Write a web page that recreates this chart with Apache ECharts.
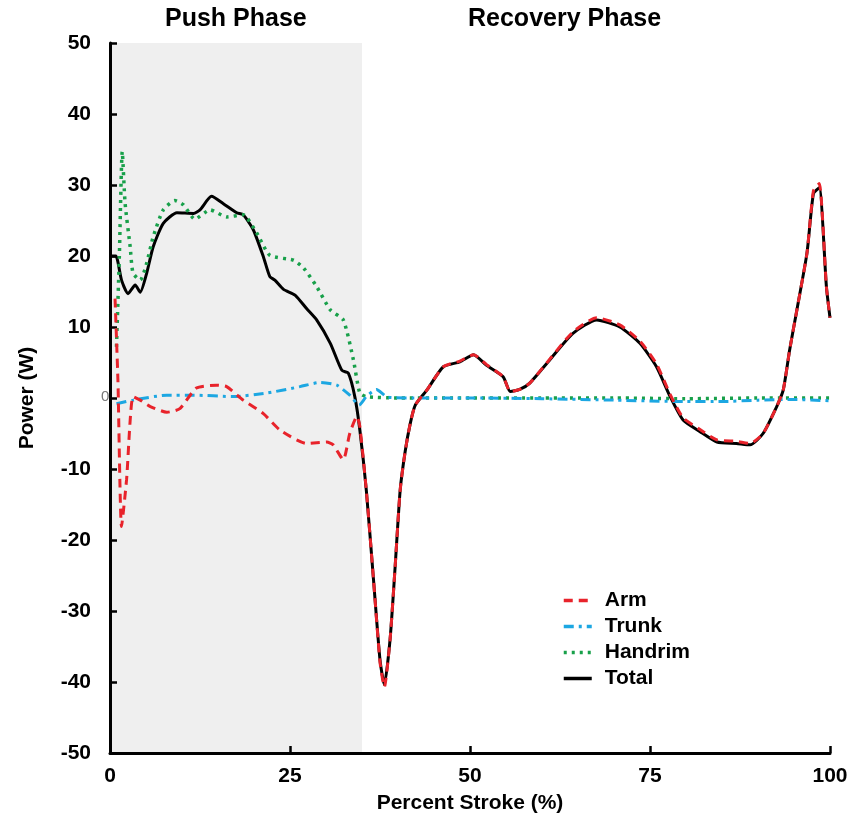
<!DOCTYPE html>
<html>
<head>
<meta charset="utf-8">
<script src="https://cdn.jsdelivr.net/npm/echarts@6/dist/echarts.min.js"></script>
<style>
html,body{margin:0;padding:0;background:#fff;}
#c{width:855px;height:825px;}
</style>
</head>
<body>
<div id="c"></div>
<script>
// ---- data ----
const xTicks = [0, 25, 50, 75, 100];
const yTicks = [-50, -40, -30, -20, -10, 0, 10, 20, 30, 40, 50];
const pushPhaseEnd = 35;
const phaseLabels = ['Push Phase', 'Recovery Phase'];
const seriesNames = ['Arm', 'Trunk', 'Handrim', 'Total'];

const totalX = [0, 0.8, 1.6, 2.5, 3.5, 4.2, 5.1, 6.0, 7.4, 9.3, 11.6, 12.5, 14.1, 15.7, 17.6, 18.5, 19.9, 21.3, 22.2, 22.9, 24.1, 25.7, 27.3, 28.7, 30.6, 32.2, 33.1, 34.0, 34.7, 35.6, 36.6, 37.5, 38.1, 38.9, 39.6, 40.3, 41.0, 41.7, 42.4, 44.0, 46.3, 48.6, 50.5, 52.3, 54.6, 55.6, 56.9, 58.3, 61.1, 64.3, 67.6, 70.8, 73.6, 75.9, 77.8, 79.6, 81.9, 84.3, 87.0, 88.9, 90.7, 92.6, 93.5, 94.4, 95.4, 96.8, 97.7, 98.5, 99.5, 100];
const totalY = [20, 20, 16.6, 14.7, 15.9, 14.9, 17.6, 21.3, 24.6, 26.1, 26.0, 26.5, 28.4, 27.4, 26.1, 25.8, 23.7, 19.9, 17.1, 16.6, 15.3, 14.5, 12.6, 11.0, 7.7, 3.9, 3.5, 0.2, -4.5, -13, -25.6, -36.9, -40.4, -34, -23.8, -13, -7.5, -3.6, -1.0, 1.1, 4.4, 5.1, 6.1, 4.6, 3.0, 0.9, 1.2, 2.1, 5.4, 9.1, 11.0, 10.0, 7.7, 4.4, 0.2, -3.1, -4.7, -6.2, -6.4, -6.6, -5.0, -1.2, 1.1, 6.8, 12.4, 20.4, 28.8, 29.6, 15.7, 11.3];

const armX = [0.7, 1.1, 1.6, 2.3, 3.2, 4.2, 5.6, 7.9, 9.7, 12.0, 14.8, 16.2, 18.5, 21.3, 23.6, 27.3, 30.1, 31.0, 32.4, 33.3, 34.3, 34.7, 35.6, 36.6, 37.5, 38.1, 38.9, 39.6, 40.3, 41.0, 41.7, 42.4, 44.0, 46.3, 48.6, 50.5, 52.3, 54.6, 55.6, 56.9, 58.3, 61.1, 64.3, 67.6, 70.8, 73.6, 75.9, 77.8, 79.6, 81.9, 84.3, 87.0, 88.9, 90.7, 92.6, 93.5, 94.4, 95.4, 96.8, 97.7, 98.5, 99.5, 100];
const armY = [14, 2.5, -18.1, -11.5, 0.2, -0.3, -1.2, -2.0, -1.5, 1.4, 1.8, 1.6, -0.3, -2.2, -4.5, -6.4, -6.2, -6.6, -8.7, -5.0, -2.6, -4.0, -13, -25.6, -37.2, -40.7, -34, -23.8, -13, -7.5, -3.6, -1.0, 1.1, 4.4, 5.2, 6.1, 4.7, 3.0, 0.9, 1.2, 2.1, 5.5, 9.3, 11.3, 10.3, 8.0, 4.8, 0.5, -2.8, -4.4, -5.9, -6.1, -6.4, -5.0, -1.2, 1.1, 6.8, 12.4, 20.4, 29.2, 30.2, 15.7, 11.3];

const trunkX = [0.9, 3.2, 7.9, 11.6, 17.1, 21.8, 26.4, 29.2, 31.5, 33.3, 34.6, 35.6, 37.0, 38.6, 42, 50, 60, 70, 80, 85, 90, 95, 100];
const trunkY = [-0.8, -0.3, 0.4, 0.4, 0.2, 0.7, 1.6, 2.2, 1.8, 0.4, -1.0, 0.2, 1.2, 0.1, 0, 0, -0.1, -0.3, -0.5, -0.5, -0.3, -0.2, -0.4];

const handrimX = [0.9, 1.3, 1.7, 2.1, 2.8, 3.2, 4.2, 5.1, 6.0, 7.4, 9.0, 10.2, 11.8, 13.9, 16.2, 18.5, 20.4, 22.2, 25.5, 26.9, 28.7, 30.6, 32.4, 33.8, 34.7, 35.6, 40, 50, 60, 70, 80, 90, 100];
const handrimY = [7.2, 20, 34.7, 27.4, 21.3, 17.6, 16.6, 19.0, 22.7, 26.5, 27.8, 27.2, 25.2, 26.5, 25.5, 25.8, 23.2, 20.1, 19.4, 18.3, 15.7, 12.4, 11.0, 5.4, 0.7, 0.2, 0, 0, 0, 0, -0.1, 0, 0];

// ---- helpers ----
function pairs(xs, ys) { return xs.map((x, i) => [x, ys[i]]); }
const FONT = "'Liberation Sans', Arial, sans-serif";

const chart = echarts.init(document.getElementById('c'), null, {renderer: 'canvas'});

chart.setOption({
  animation: false,
  backgroundColor: '#fff',
  grid: {left: 110, right: 25, top: 43, bottom: 72, containLabel: false},
  legend: {
    orient: 'vertical',
    left: 557,
    top: 585,
    itemWidth: 28,
    itemHeight: 14,
    itemGap: 5,
    data: seriesNames,
    itemStyle: {opacity: 0},
    lineStyle: {width: 3.5},
    textStyle: {fontFamily: FONT, fontWeight: 'bold', fontSize: 21, color: '#000', padding: [0, 0, 0, 8]}
  },
  xAxis: {
    type: 'value', min: 0, max: 100, interval: 25,
    name: 'Percent Stroke (%)', nameLocation: 'middle', nameGap: 40,
    nameTextStyle: {fontFamily: FONT, fontWeight: 'bold', fontSize: 21, color: '#000'},
    axisLine: {show: true, onZero: false, lineStyle: {color: '#000', width: 3}},
    axisTick: {show: true, inside: true, length: 7, lineStyle: {color: '#000', width: 2.5}},
    axisLabel: {margin: 13, fontFamily: FONT, fontWeight: 'bold', fontSize: 21, color: '#000',
      formatter: v => xTicks.includes(v) ? String(v) : ''},
    splitLine: {show: false}
  },
  yAxis: {
    type: 'value', min: -50, max: 50, interval: 10,
    name: 'Power (W)', nameLocation: 'middle', nameGap: 72, nameRotate: 90,
    nameTextStyle: {fontFamily: FONT, fontWeight: 'bold', fontSize: 21, color: '#000'},
    axisLine: {show: true, onZero: false, lineStyle: {color: '#000', width: 3}},
    axisTick: {show: true, inside: true, length: 7, lineStyle: {color: '#000', width: 2.5}},
    axisLabel: {margin: 19, fontFamily: FONT, fontWeight: 'bold', fontSize: 21, color: '#000',
      formatter: v => (v === 0 ? '' : (yTicks.includes(v) ? String(v) : ''))},
    splitLine: {show: false}
  },
  graphic: [
    {type: 'text', left: 237 - 72, top: 7, style: {text: phaseLabels[0], fontFamily: FONT, fontWeight: 'bold', fontSize: 25, fill: '#000'}},
    {type: 'text', left: 575 - 107, top: 7, style: {text: phaseLabels[1], fontFamily: FONT, fontWeight: 'bold', fontSize: 25, fill: '#000'}},
    {type: 'text', left: 101, top: 389, style: {text: '0', fontFamily: FONT, fontSize: 15, fill: '#777'}}
  ],
  series: [
    {
      name: 'phase', type: 'line', data: [], symbol: 'none', z: -1, silent: true,
      markArea: {silent: true, z: -1, itemStyle: {color: '#efefef'}, data: [[{xAxis: 0}, {xAxis: pushPhaseEnd}]]}
    },
    {
      name: 'Total', type: 'line', data: pairs(totalX, totalY), symbol: 'none', smooth: 0.2,
      lineStyle: {color: '#000', width: 3}, itemStyle: {color: '#000'}, z: 2
    },
    {
      name: 'Handrim', type: 'line', data: pairs(handrimX, handrimY), symbol: 'none', smooth: 0.2,
      lineStyle: {color: '#18a04a', width: 3.5, type: [3, 5]}, itemStyle: {color: '#18a04a'}, z: 3
    },
    {
      name: 'Trunk', type: 'line', data: pairs(trunkX, trunkY), symbol: 'none', smooth: 0.2,
      lineStyle: {color: '#1ca7e2', width: 3, type: [10, 5, 3, 5]}, itemStyle: {color: '#1ca7e2'}, z: 4
    },
    {
      name: 'Arm', type: 'line', data: pairs(armX, armY), symbol: 'none', smooth: 0.2,
      lineStyle: {color: '#e8232b', width: 3, type: [9, 6]}, itemStyle: {color: '#e8232b'}, z: 5
    }
  ]
});
</script>
</body>
</html>
